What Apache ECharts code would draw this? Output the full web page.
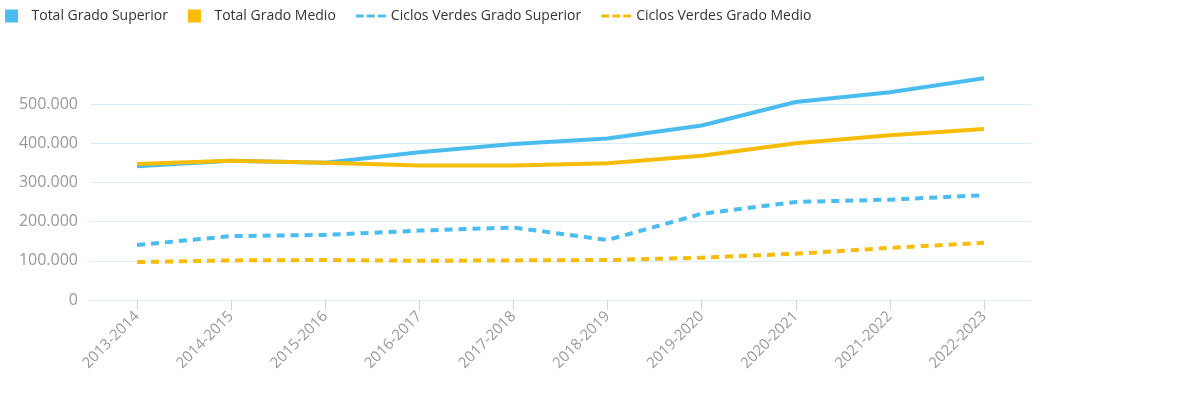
<!DOCTYPE html><html><head><meta charset="utf-8"><script src="https://cdn.jsdelivr.net/npm/echarts@6/dist/echarts.min.js"></script>
<style>html,body{margin:0;background:#fff}#c{width:1180px;height:402px}</style></head><body><div id="c"></div><script>
const categories=["2013-2014","2014-2015","2015-2016","2016-2017","2017-2018","2018-2019","2019-2020","2020-2021","2021-2022","2022-2023"];
const totalGS=[341252,355000,350000,377000,398000,412000,445000,505000,530000,565612];
const totalGM=[347122,355000,350000,343000,343000,349000,368000,400000,420000,436405];
const verdesGS=[140240,163000,166000,177000,185000,153000,220000,250000,256000,267379];
const verdesGM=[96839,101000,102000,100000,101000,102000,108000,118000,133000,145874];
const BLUE="#4bbcee",YEL="#f5bd07",TXT="#555";
const fmt=v=>v.toLocaleString('de-DE');
function lab(data,color,first,last){return data.map((v,i)=>{const L=i===0?first:(i===data.length-1?last:null);if(L)return{value:v,label:{show:true,position:L,color:color,fontSize:16,formatter:p=>fmt(p.value),distance:10}};return v;});}
function s(name,data,color,dash,lc,first,last){return{name,type:'line',data:lab(data,lc,first,last),clip:false,symbol:'circle',symbolSize:0.1,showSymbol:true,lineStyle:{color,width:4,type:dash?[8,6]:'solid'},itemStyle:{color,opacity:0}};}
const ch=echarts.init(document.getElementById('c'));
const sq='path://M0 0H13V13H0Z',ds='path://M0 0H10V4H0ZM14 0H24V4H14ZM28 0H38V4H28Z';
ch.setOption({textStyle:{fontFamily:'Open Sans'},animation:false,
legend:{left:0,top:4,itemGap:20,itemWidth:30,itemHeight:13,textStyle:{fontSize:14,color:'#333'},data:[
{name:'Total Grado Superior',icon:sq,itemStyle:{color:BLUE,opacity:1}},
{name:'Total Grado Medio',icon:sq,itemStyle:{color:YEL,opacity:1}},
{name:'Ciclos Verdes Grado Superior',icon:ds,itemStyle:{color:BLUE,opacity:1}},
{name:'Ciclos Verdes Grado Medio',icon:ds,itemStyle:{color:YEL,opacity:1}}]},
grid:{left:90,right:149,top:104,bottom:102},
xAxis:{type:'category',data:categories,axisLine:{lineStyle:{color:'#d9eef8'}},axisTick:{show:true,alignWithLabel:true,lineStyle:{color:'#ccd6eb'},length:10},axisLabel:{rotate:45,color:'#999',fontSize:15,margin:14}},
yAxis:{type:'value',min:0,max:500000,interval:100000,axisLabel:{color:'#999',fontSize:16,formatter:v=>fmt(v),margin:12},splitLine:{lineStyle:{color:'#d9eef8'}}},
series:[s('Total Grado Superior',totalGS,BLUE,false,BLUE,'bottom','top'),
s('Total Grado Medio',totalGM,YEL,false,TXT,'top','top'),
s('Ciclos Verdes Grado Superior',verdesGS,BLUE,true,BLUE,'top','top'),
s('Ciclos Verdes Grado Medio',verdesGM,YEL,true,TXT,'bottom','bottom')]});
</script></body></html>
